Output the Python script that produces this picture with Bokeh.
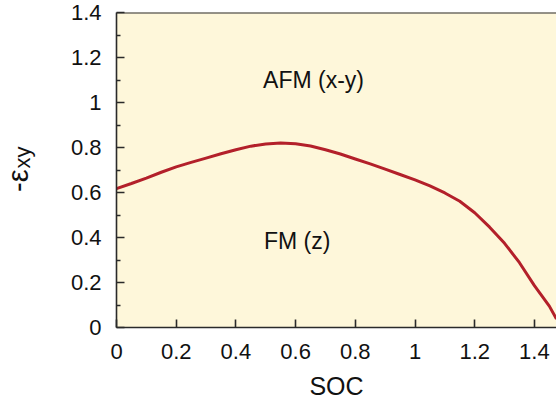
import math
from bokeh.plotting import figure
from bokeh.layouts import row
from bokeh.models import Range1d, FixedTicker, Label, Span
from bokeh.core.properties import value
from bokeh.embed import file_html
from bokeh.resources import INLINE

# ---- data ----
soc = [0.0, 0.05, 0.1, 0.15, 0.2, 0.25, 0.3, 0.35, 0.4, 0.45, 0.5, 0.55, 0.6, 0.65,
       0.7, 0.75, 0.8, 0.85, 0.9, 0.95, 1.0, 1.05, 1.1, 1.15, 1.2, 1.25, 1.3, 1.35,
       1.4, 1.45, 1.474]
eps_xy = [0.617, 0.640, 0.664, 0.690, 0.714, 0.734, 0.753, 0.772, 0.790, 0.806, 0.816, 0.820,
          0.817, 0.807, 0.790, 0.771, 0.749, 0.727, 0.704, 0.680, 0.656, 0.629, 0.598, 0.561,
          0.510, 0.446, 0.374, 0.288, 0.186, 0.095, 0.038]

x_ticks = [0, 0.2, 0.4, 0.6, 0.8, 1, 1.2, 1.4]
x_tick_labels = ["0", "0.2", "0.4", "0.6", "0.8", "1", "1.2", "1.4"]
y_ticks = [0, 0.2, 0.4, 0.6, 0.8, 1, 1.2, 1.4]
y_tick_labels = ["0", "0.2", "0.4", "0.6", "0.8", "1", "1.2", "1.4"]
y_minor = [0.1, 0.3, 0.5, 0.7, 0.9, 1.1, 1.3]

regions = ["AFM (x-y)", "FM (z)"]
region_x = [0.66, 0.605]
region_y = [1.10, 0.385]

x_title = "SOC"
y_title_main = "-ε"
y_title_sub = "xy"

FONT = "Liberation Sans"
TXT = "#111111"
AX = "#2a2a2a"

# ---- main plot ----
p = figure(width=500, height=402, x_range=Range1d(0, 1.474), y_range=Range1d(0, 1.4),
           output_backend="svg", toolbar_location=None,
           min_border_left=60, min_border_right=0, min_border_top=12, min_border_bottom=74)
p.background_fill_color = "#fef7da"
p.border_fill_color = "white"
p.outline_line_color = None
p.grid.visible = False

xa = p.xaxis[0]
xa.ticker = FixedTicker(ticks=x_ticks)
xa.major_label_overrides = {t: l for t, l in zip(x_ticks, x_tick_labels)}
ya = p.yaxis[0]
ya.ticker = FixedTicker(ticks=y_ticks, minor_ticks=y_minor)
ya.major_label_overrides = {t: l for t, l in zip(y_ticks, y_tick_labels)}

for ax in (xa, ya):
    ax.axis_line_color = AX
    ax.axis_line_width = 1.6
    ax.major_tick_line_color = AX
    ax.major_tick_line_width = 1.6
    ax.minor_tick_line_color = AX
    ax.minor_tick_line_width = 1.3
    ax.major_tick_in = 8
    ax.major_tick_out = 0
    ax.major_label_text_font = FONT
    ax.major_label_text_font_size = "22px"
    ax.major_label_text_color = TXT
xa.minor_tick_in = 0
xa.minor_tick_out = 0
ya.minor_tick_in = 4
ya.minor_tick_out = 0
xa.major_label_standoff = 16
ya.major_label_standoff = 15

xa.axis_label = x_title
xa.axis_label_text_font = FONT
xa.axis_label_text_font_size = "25px"
xa.axis_label_text_font_style = "normal"
xa.axis_label_text_color = TXT
xa.axis_label_standoff = 10

p.add_layout(Span(location=1.4, dimension="width", line_color=AX, line_width=2))

p.line(soc, eps_xy, line_color="#b3202a", line_width=3)

for t, x, y in zip(regions, region_x, region_y):
    p.add_layout(Label(x=x, y=y, text=t, text_font=FONT, text_font_size="23px",
                       text_color=TXT, text_align="center", text_baseline="middle"))

# ---- narrow panel holding the rotated y-axis title (with subscript) ----
yl = figure(width=56, height=402, x_range=Range1d(0, 56), y_range=Range1d(0, 402),
            x_axis_type=None, y_axis_type=None,
            output_backend="svg", toolbar_location=None,
            min_border_left=0, min_border_right=0, min_border_top=0, min_border_bottom=0)
yl.grid.visible = False
yl.outline_line_color = None
yl.background_fill_color = "white"
yl.border_fill_color = "white"
yl.text(x=[17], y=[173], text=[y_title_main], angle=math.pi / 2,
        text_font=value(FONT), text_font_size="29px", text_color=TXT,
        text_align="left", text_baseline="alphabetic")
yl.text(x=[22], y=[203], text=[y_title_sub], angle=math.pi / 2,
        text_font=value(FONT), text_font_size="22px", text_color=TXT,
        text_align="left", text_baseline="alphabetic")

layout = row(yl, p)
open("out.html", "w").write(file_html(layout, INLINE))
